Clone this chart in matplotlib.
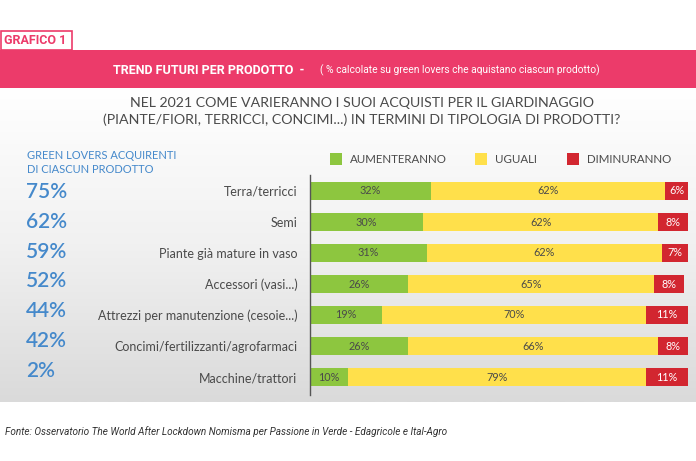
import numpy as np
import matplotlib
matplotlib.use("Agg")
import matplotlib.pyplot as plt
from matplotlib.patches import Rectangle
from matplotlib.colors import LinearSegmentedColormap

# ---- data ----
categories = ["Terra/terricci", "Semi", "Piante già mature in vaso", "Accessori (vasi...)",
              "Attrezzi per manutenzione (cesoie...)", "Concimi/fertilizzanti/agrofarmaci",
              "Macchine/trattori"]
aumenteranno = [32, 30, 31, 26, 19, 26, 10]
uguali = [62, 62, 62, 65, 70, 66, 79]
diminuiranno = [6, 8, 7, 8, 11, 8, 11]
acquirenti = ["75%", "62%", "59%", "52%", "44%", "42%", "2%"]
series_names = ["AUMENTERANNO", "UGUALI", "DIMINURANNO"]

GREEN = "#8DC63F"
YELLOW = "#FFE04B"
RED = "#D22630"
PINK = "#EC3B6A"
BLUE = "#4589CB"
TXT = "#4a4a4a"

W, H = 696, 461
fig = plt.figure(figsize=(W / 100, H / 100), dpi=100)
fig.patch.set_facecolor("white")

bg = fig.add_axes([0, 0, 1, 1])
bg.set_xlim(0, W)
bg.set_ylim(H, 0)
bg.axis("off")

# gradient panel
grad = np.linspace(0, 1, 256).reshape(-1, 1)
cmap = LinearSegmentedColormap.from_list("g", ["#ffffff", "#f1f1f1", "#dadada"])
bg.imshow(grad, cmap=cmap, extent=(0, W, 402, 88), aspect="auto", zorder=0)

# header
bg.add_patch(Rectangle((0, 50), W, 38, facecolor=PINK, edgecolor="none", zorder=1))
bg.add_patch(Rectangle((0.5, 31), 71.5, 19, facecolor="white", edgecolor=PINK, lw=1.2, zorder=1))
bg.text(4, 41, "GRAFICO 1", color=PINK, fontsize=9, fontweight="bold",
        family="Roboto", va="center", ha="left")
bg.text(113, 70, "TREND FUTURI PER PRODOTTO  -", color="white", fontsize=9, fontweight="bold",
        family="Roboto", va="center", ha="left")
bg.text(320, 70, "( % calcolate su green lovers che aquistano ciascun prodotto)", color="white",
        fontsize=7.4, family="Roboto", va="center", ha="left")

bg.text(362, 103, "NEL 2021 COME VARIERANNO I SUOI ACQUISTI PER IL GIARDINAGGIO",
        color=TXT, fontsize=10.2, family="Lato", va="center", ha="center")
bg.text(362, 120, "(PIANTE/FIORI, TERRICCI, CONCIMI...) IN TERMINI DI TIPOLOGIA DI PRODOTTI?",
        color=TXT, fontsize=10.2, family="Lato", va="center", ha="center")

bg.text(27, 155, "GREEN LOVERS ACQUIRENTI", color=BLUE, fontsize=8, family="Lato",
        va="center", ha="left")
bg.text(27, 169, "DI CIASCUN PRODOTTO", color=BLUE, fontsize=8, family="Lato",
        va="center", ha="left")
for i, p in enumerate(acquirenti):
    bg.text(26, 192 + 29.8 * i, p, color=BLUE, fontsize=15, family="Lato", fontweight="semibold",
            va="center", ha="left")

# legend
leg_x = [330, 475, 567]
for (lx, name, col) in zip(leg_x, series_names, [GREEN, YELLOW, RED]):
    bg.add_patch(Rectangle((lx, 153), 12, 12, facecolor=col, edgecolor="none"))
    bg.text(lx + 20, 159, name, color=TXT, fontsize=8.3, family="Lato",
            va="center", ha="left")

bg.text(5, 432, "Fonte: Osservatorio The World After Lockdown Nomisma per Passione in Verde - Edagricole e Ital-Agro",
        color="#333333", fontsize=7.2, style="italic", family="Roboto",
        va="center", ha="left")

# bars
ax = fig.add_axes([310 / W, 1 - 395 / H, 378 / W, 220 / H])
ax.set_facecolor("none")
y = np.arange(len(categories))
a = np.array(aumenteranno)
u = np.array(uguali)
d = np.array(diminuiranno)
h = 0.6
ax.barh(y, a, height=h, color=GREEN)
ax.barh(y, u, left=a, height=h, color=YELLOW)
ax.barh(y, d, left=a + u, height=h, color=RED)
for i in range(len(categories)):
    ax.text(a[i] / 2, y[i], f"{a[i]}%", ha="center", va="center", fontsize=7.8,
            color=TXT, family="Lato")
    ax.text(a[i] + u[i] / 2, y[i], f"{u[i]}%", ha="center", va="center", fontsize=7.8,
            color=TXT, family="Lato")
    ax.text(a[i] + u[i] + d[i] / 2, y[i], f"{d[i]}%", ha="center", va="center", fontsize=7.8,
            color="white", family="Lato")

ax.set_xlim(0, 100)
ax.set_ylim((395 - 191) / 31, -16 / 31)
ax.set_yticks(y)
ax.set_yticklabels(categories, fontsize=9, color=TXT, family="Lato")
ax.tick_params(axis="y", length=0, pad=9)
ax.set_xticks([])
for s in ["top", "right", "bottom"]:
    ax.spines[s].set_visible(False)
ax.spines["left"].set_color("#555555")
ax.spines["left"].set_linewidth(1)

fig.savefig("out.png", dpi=100)
